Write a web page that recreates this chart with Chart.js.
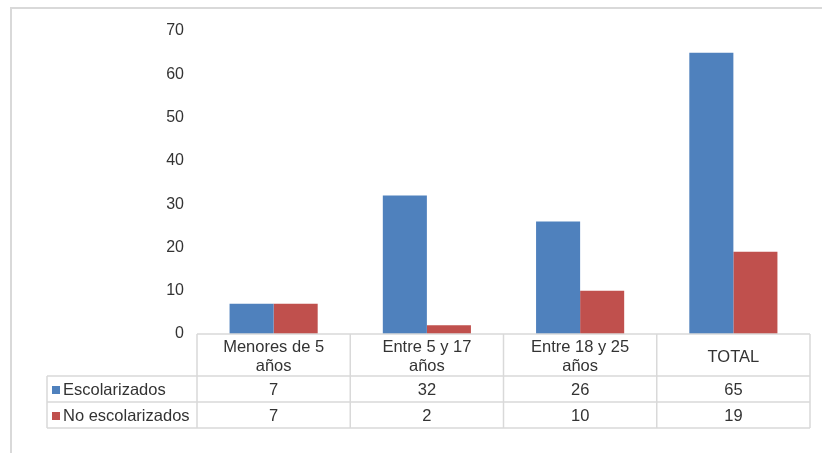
<!DOCTYPE html>
<html>
<head>
<meta charset="utf-8">
<script src="https://cdn.jsdelivr.net/npm/chart.js@4/dist/chart.umd.min.js"></script>
<style>
  html, body { margin: 0; padding: 0; background: #fff; }
  #wrap { width: 822px; height: 453px; position: relative; }
</style>
</head>
<body>
<div id="wrap"><canvas id="c" width="822" height="453"></canvas></div>
<script>
const categories = [["Menores de 5", "años"], ["Entre 5 y 17", "años"], ["Entre 18 y 25", "años"], ["TOTAL"]];
const seriesNames = ["Escolarizados", "No escolarizados"];
const escolarizados = [7, 32, 26, 65];
const noEscolarizados = [7, 2, 10, 19];
const yTicks = [0, 10, 20, 30, 40, 50, 60, 70];

const colors = ["#4F81BD", "#C0504D"];
const FONT = "'Liberation Sans', Arial, sans-serif";
const TEXT = "#333333";
const LINE = "#d9d9d9";

const tablePlugin = {
  id: 'dataTable',
  beforeDraw(chart) {
    const ctx = chart.ctx;
    ctx.save();
    ctx.strokeStyle = LINE;
    ctx.lineWidth = 2;
    ctx.beginPath();
    ctx.moveTo(11, 453);
    ctx.lineTo(11, 8);
    ctx.lineTo(822, 8);
    ctx.stroke();
    ctx.restore();
  },
  afterDatasetsDraw(chart) {
    const ctx = chart.ctx;
    const area = chart.chartArea;
    const xs = chart.scales.x;
    const n = categories.length;
    const w = (area.right - area.left) / n;
    const top = area.bottom;
    const headH = 42, rowH = 26;
    const tableLeft = 47;
    const datasets = chart.data.datasets;
    ctx.save();
    ctx.strokeStyle = LINE;
    ctx.lineWidth = 1.5;
    ctx.beginPath();
    ctx.moveTo(area.left, top); ctx.lineTo(area.right, top);
    for (let r = 0; r <= datasets.length; r++) {
      const y = top + headH + r * rowH;
      ctx.moveTo(tableLeft, y); ctx.lineTo(area.right, y);
    }
    const bottom = top + headH + datasets.length * rowH;
    ctx.moveTo(tableLeft, top + headH); ctx.lineTo(tableLeft, bottom);
    for (let i = 0; i <= n; i++) {
      const x = area.left + i * w;
      ctx.moveTo(x, top); ctx.lineTo(x, bottom);
    }
    ctx.stroke();

    ctx.fillStyle = TEXT;
    ctx.font = "16.5px " + FONT;
    ctx.textAlign = "center";
    ctx.textBaseline = "middle";
    for (let i = 0; i < n; i++) {
      const cx = xs.getPixelForValue(i);
      const lines = categories[i];
      const lh = 19;
      const startY = top + headH / 2 - (lines.length - 1) * lh / 2 + 2;
      lines.forEach((l, k) => ctx.fillText(l, cx, startY + k * lh));
      datasets.forEach((ds, r) => {
        const y = top + headH + r * rowH + rowH / 2 + 1;
        ctx.fillText(String(ds.data[i]), cx, y);
      });
    }
    ctx.textAlign = "left";
    datasets.forEach((ds, r) => {
      const y = top + headH + r * rowH + rowH / 2 + 1;
      ctx.fillStyle = ds.backgroundColor;
      ctx.fillRect(52, y - 4, 8, 8);
      ctx.fillStyle = TEXT;
      ctx.fillText(ds.label, 63, y);
    });
    ctx.restore();
  }
};

new Chart(document.getElementById('c'), {
  type: 'bar',
  data: {
    labels: categories.map(c => c.join(' ')),
    datasets: [
      { label: seriesNames[0], data: escolarizados, backgroundColor: colors[0], borderWidth: 0 },
      { label: seriesNames[1], data: noEscolarizados, backgroundColor: colors[1], borderWidth: 0 }
    ]
  },
  options: {
    responsive: false,
    animation: false,
    events: [],
    layout: { padding: { left: 0, right: 12, top: 31, bottom: 119 } },
    datasets: { bar: { categoryPercentage: 0.575, barPercentage: 1.0 } },
    plugins: { legend: { display: false }, tooltip: { enabled: false } },
    scales: {
      x: { display: false },
      y: {
        min: 0, max: 70,
        afterFit(s) { s.width = 197; },
        afterBuildTicks(s) { s.ticks = yTicks.map(v => ({ value: v })); },
        grid: { display: false, drawTicks: false },
        border: { display: false },
        ticks: { padding: 13, color: TEXT, font: { family: FONT, size: 16 } }
      }
    }
  },
  plugins: [tablePlugin]
});
</script>
</body>
</html>
